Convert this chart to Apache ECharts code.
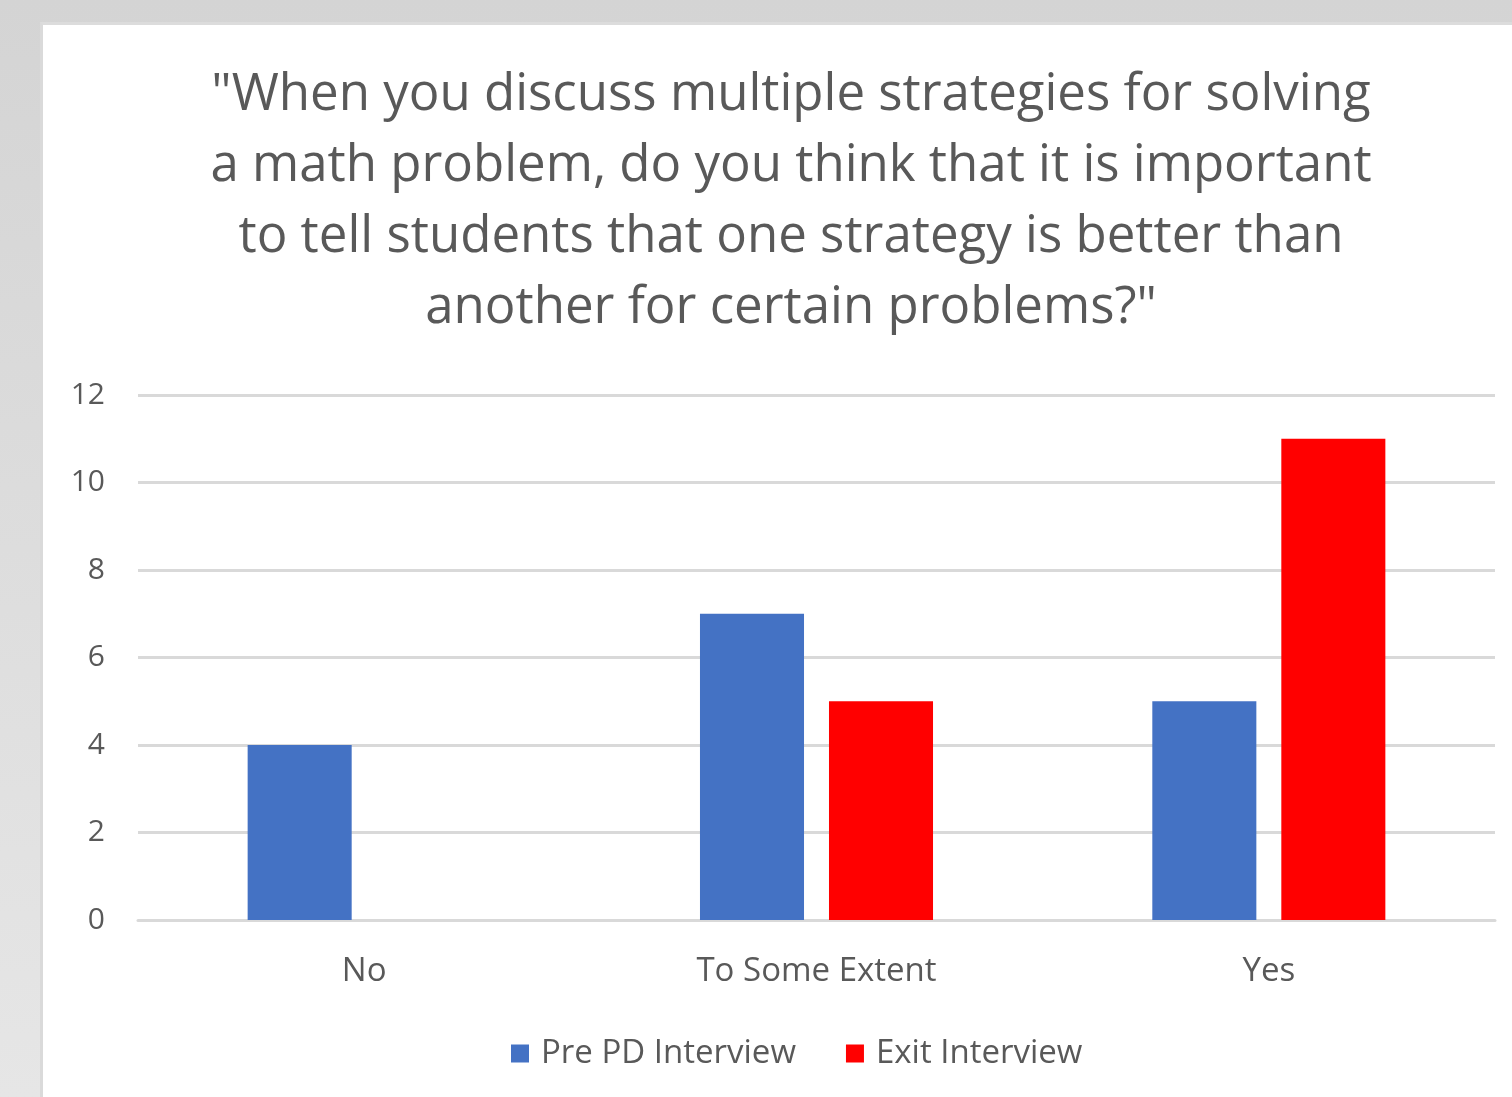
<!DOCTYPE html>
<html>
<head>
<meta charset="utf-8">
<script src="https://cdn.jsdelivr.net/npm/echarts@6/dist/echarts.min.js"></script>
<style>
  html, body { margin: 0; padding: 0; }
  body {
    width: 1512px; height: 1097px; overflow: hidden; position: relative;
    background: linear-gradient(180deg, #d4d4d4 0%, #e6e6e6 100%);
  }
  #panel {
    position: absolute; left: 40px; top: 22px; right: 0; bottom: 0;
    background: #fff; border-left: 3px solid #dadada; border-top: 3px solid #dcdcdc;
  }
  #chart { position: absolute; left: 0; top: 0; width: 1512px; height: 1097px; }
</style>
</head>
<body>
<div id="panel"></div>
<div id="chart"></div>
<script>
// 图表数据
const categories = ["No", "To Some Extent", "Yes"];
const prePD = [4, 7, 5];
const exitInterview = [0, 5, 11];
const seriesNames = ["Pre PD Interview", "Exit Interview"];
const titleText = "\"When you discuss multiple strategies for solving\na math problem, do you think that it is important\nto tell students that one strategy is better than\nanother for certain problems?\"";

const chart = echarts.init(document.getElementById("chart"));
const font = "Open Sans";
const option = {
  animation: false,
  backgroundColor: "transparent",
  title: {
    text: titleText,
    left: 786,
    top: 55,
    textAlign: "center",
    textStyle: {
      fontFamily: font,
      fontSize: 51,
      fontWeight: "normal",
      color: "#595959",
      lineHeight: 71,
    },
  },
  legend: {
    data: seriesNames,
    left: 506,
    top: 1032,
    itemWidth: 18,
    itemHeight: 18,
    itemGap: 50,
    icon: "rect",
    textStyle: {
      fontFamily: font,
      fontSize: 33,
      color: "#595959",
      padding: [0, 0, 0, 7],
    },
  },
  grid: {
    left: 138,
    right: 17,
    top: 395,
    bottom: 177,
  },
  xAxis: {
    type: "category",
    data: categories,
    axisTick: { show: false },
    axisLine: { lineStyle: { color: "#d9d9d9", width: 3 } },
    axisLabel: {
      fontFamily: font,
      fontSize: 33,
      color: "#595959",
      margin: 35,
    },
  },
  yAxis: {
    type: "value",
    min: 0,
    max: 12,
    interval: 2,
    axisLine: { show: false },
    axisTick: { show: false },
    splitLine: { lineStyle: { color: "#d9d9d9", width: 3 } },
    axisLabel: {
      fontFamily: font,
      fontSize: 30,
      color: "#595959",
      margin: 33,
    },
  },
  series: [
    {
      name: seriesNames[0],
      type: "bar",
      data: prePD,
      barWidth: "23%",
      barGap: "24%",
      itemStyle: { color: "#4472c4" },
    },
    {
      name: seriesNames[1],
      type: "bar",
      data: exitInterview,
      barWidth: "23%",
      itemStyle: { color: "#ff0000" },
    },
  ],
};
chart.setOption(option);
</script>
</body>
</html>
